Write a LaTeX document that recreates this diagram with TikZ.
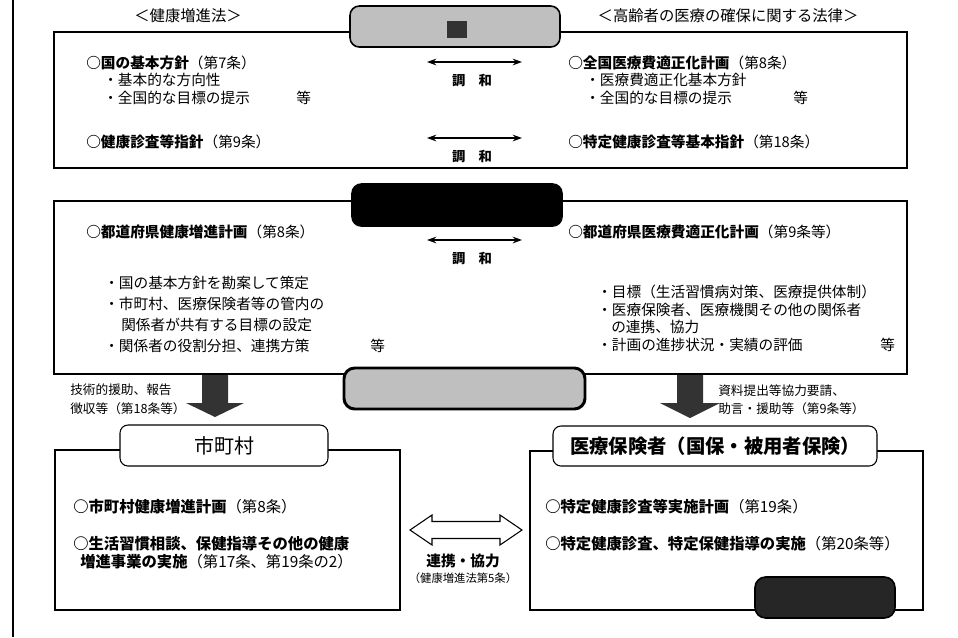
\documentclass[tikz,border=0pt]{standalone}
\usepackage{fontspec}
\setmainfont{Noto Sans CJK JP}
\usetikzlibrary{arrows.meta,fit}
\begin{document}
\begin{tikzpicture}[x=0.75pt,y=-0.75pt,
  txt/.style={anchor=west,inner sep=0pt,font=\fontsize{11}{13}\selectfont},
  ltxt/.style={anchor=west,inner sep=0pt,font=\fontsize{11.5}{14}\selectfont},
  small/.style={anchor=west,inner sep=0pt,font=\fontsize{9.5}{11}\selectfont},
  lawtitle/.style={inner sep=0pt,font=\fontsize{11.5}{14}\selectfont},
  frame/.style={draw,line width=0.8pt,inner sep=0pt},
  grayhdr/.style={draw,line width=1.2pt,rounded corners=7pt,fill=gray!50,inner sep=0pt},
  blackhdr/.style={draw,line width=1.2pt,rounded corners=7pt,fill=black,inner sep=0pt},
  whitehdr/.style={draw,line width=0.8pt,rounded corners=6pt,fill=white,inner sep=0pt},
  harm/.style={{Stealth[length=7pt,width=5pt]}-{Stealth[length=7pt,width=5pt]},line width=1.1pt},
  harmtxt/.style={inner sep=0pt,font=\fontsize{10}{12}\selectfont\bfseries},
  bigarrow/.style={fill=black!80}
]
\useasboundingbox (0,0) rectangle (958,637);

% left rule
\draw[line width=2pt] (13,0) -- (13,637);

% ---------- top section ----------
\node[lawtitle] (lawA) at (188,16) {＜健康増進法＞};
\node[lawtitle] (lawB) at (728,16) {＜高齢者の医療の確保に関する法律＞};
\node[frame,fit={(54,32) (907,168)}] (topbox) {};
\node[grayhdr,fit={(350,6) (560,47)}] (kuni) {};
\fill[black!80] (447,21) rectangle (467,38);

\node[txt] (t1) at (86,63) {{\bfseries ○国の基本方針}（第7条）};
\node[txt] (t2) at (103,80) {・基本的な方向性};
\node[txt] (t3) at (103,98) {・全国的な目標の提示};
\node[txt] (t3b) at (296,98) {等};
\node[txt] (t4) at (86,142) {{\bfseries ○健康診査等指針}（第9条）};

\node[txt] (r1) at (568,63) {{\bfseries ○全国医療費適正化計画}（第8条）};
\node[txt] (r2) at (585,80) {・医療費適正化基本方針};
\node[txt] (r3) at (585,98) {・全国的な目標の提示};
\node[txt] (r3b) at (793,98) {等};
\node[txt] (r4) at (568,142) {{\bfseries ○特定健康診査等基本指針}（第18条）};

\coordinate (h1l) at (427,62);
\coordinate (h1r) at (522,62);
\draw[harm] (h1l) -- (h1r);
\node[harmtxt] (h1t) at (472,81) {調　和};
\coordinate (h2l) at (427,138);
\coordinate (h2r) at (522,138);
\draw[harm] (h2l) -- (h2r);
\node[harmtxt] (h2t) at (472,157) {調　和};

% ---------- middle section ----------
\node[frame,fit={(54,201) (907,374)}] (midbox) {};
\node[blackhdr,fit={(352,184) (562,226)}] (pref) {};

\node[txt] (m1) at (86,232) {{\bfseries ○都道府県健康増進計画}（第8条）};
\node[txt] (m2) at (104,283) {・国の基本方針を勘案して策定};
\node[txt] (m3) at (104,304) {・市町村、医療保険者等の管内の};
\node[txt] (m4) at (121,325) {関係者が共有する目標の設定};
\node[txt] (m5) at (104,346) {・関係者の役割分担、連携方策};
\node[txt] (m5b) at (370,346) {等};

\node[txt] (n1) at (568,232) {{\bfseries ○都道府県医療費適正化計画}（第9条等）};
\node[txt] (n2) at (597,292) {・目標（生活習慣病対策、医療提供体制）};
\node[txt] (n3) at (597,310) {・医療保険者、医療機関その他の関係者};
\node[txt] (n4) at (611,327) {の連携、協力};
\node[txt] (n5) at (597,345) {・計画の進捗状況・実績の評価};
\node[txt] (n5b) at (880,345) {等};

\coordinate (h3l) at (427,240);
\coordinate (h3r) at (522,240);
\draw[harm] (h3l) -- (h3r);
\node[harmtxt] (h3t) at (472,259) {調　和};

% ---------- lower section ----------
\node[frame,fit={(55,450) (400,610)}] (citybox) {};
\node[frame,fit={(530,451) (923,610)}] (insbox) {};

% down arrows
\coordinate (dl) at (215,375);
\fill[bigarrow] (dl) ++(-13,0) -- ++(26,0) -- ++(0,28) -- ++(16,0) -- ++(-29,14) -- ++(-29,-14) -- ++(16,0) -- cycle;
\coordinate (dr) at (690,375);
\fill[bigarrow] (dr) ++(-13,0) -- ++(26,0) -- ++(0,28) -- ++(17,0) -- ++(-30,15) -- ++(-30,-15) -- ++(17,0) -- cycle;

\node[small] (a1) at (70,390) {技術的援助、報告};
\node[small] (a2) at (70,409) {徴収等（第18条等）};
\node[small] (b1) at (718,391) {資料提出等協力要請、};
\node[small] (b2) at (718,409) {助言・援助等（第9条等）};

% regional council box
\node[draw,line width=2.2pt,rounded corners=8pt,fill=gray!50,inner sep=0pt,fit={(344,368) (585,409)}] (council) {};

% headers of lower boxes
\node[whitehdr,fit={(120,425) (328,466)}] (cityhdr) {};
\node[inner sep=0pt,font=\fontsize{15}{18}\selectfont] (citylbl) at (cityhdr.center) {市町村};
\node[whitehdr,fit={(553,426) (877,466)}] (inshdr) {};
\node[inner sep=0pt,font=\fontsize{14.5}{17}\selectfont\bfseries] (inslbl) at (inshdr.center) {医療保険者（国保・被用者保険）};

\node[ltxt] (c1) at (73,507) {{\bfseries ○市町村健康増進計画}（第8条）};
\node[ltxt] (c2) at (73,544) {\bfseries ○生活習慣相談、保健指導その他の健康};
\node[ltxt] (c3) at (80,562) {{\bfseries 増進事業の実施}（第17条、第19条の2）};

\node[ltxt] (i1) at (545,507) {{\bfseries ○特定健康診査等実施計画}（第19条）};
\node[ltxt] (i2) at (545,544) {{\bfseries ○特定健康診査、特定保健指導の実施}（第20条等）};

% cooperation arrow
\coordinate (coopL) at (410,530);
\draw[line width=0.8pt,fill=white] (coopL) -- ++(22,-15) -- ++(0,6.5) -- ++(68,0) -- ++(0,-6.5) -- ++(22,15) -- ++(-22,15) -- ++(0,-6.5) -- ++(-68,0) -- ++(0,6.5) -- cycle;
\node[inner sep=0pt,font=\fontsize{11}{13}\selectfont\bfseries] (coop1) at (463,561) {連携・協力};
\node[inner sep=0pt,font=\fontsize{8.5}{10}\selectfont] (coop2) at (463,578) {（健康増進法第5条）};

% insurer council box
\node[draw,line width=1.2pt,rounded corners=8pt,fill=black!85,inner sep=0pt,fit={(755,577) (895,618)}] (inscouncil) {};
\end{tikzpicture}
\end{document}
